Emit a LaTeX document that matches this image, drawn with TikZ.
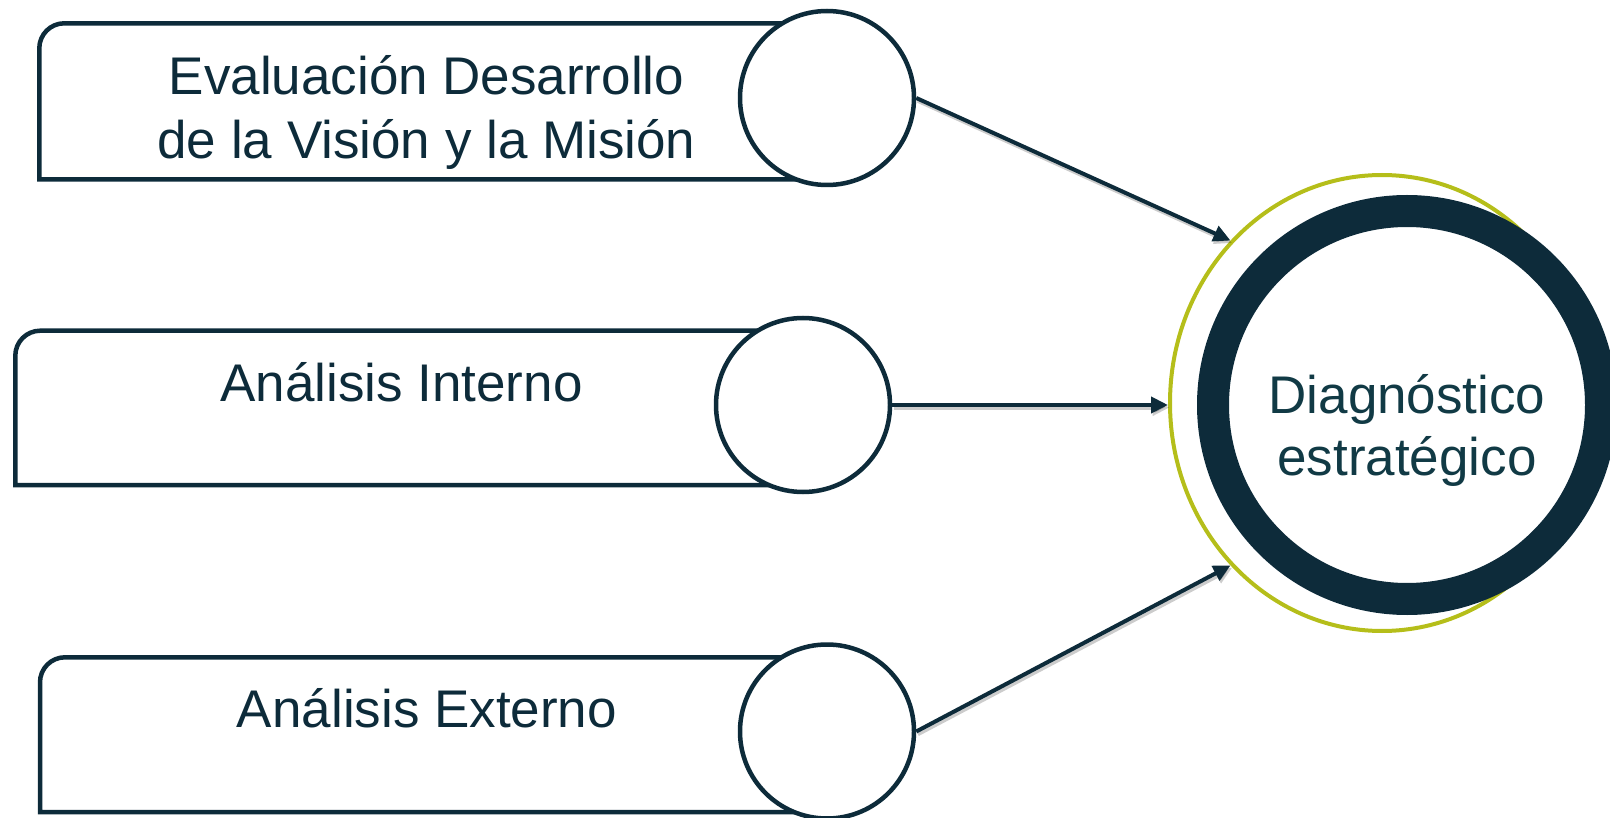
\documentclass[tikz,border=0pt]{standalone}
\usepackage{fontspec}
\setmainfont{Liberation Sans}
\usetikzlibrary{arrows.meta,shapes.geometric}
\definecolor{navy}{HTML}{0D2B3A}
\definecolor{lime}{HTML}{B5BE1A}
\definecolor{tealtext}{HTML}{113A45}
\begin{document}
\begin{tikzpicture}[x=1pt,y=-1pt,
  boxline/.style={draw=navy,line width=4.5pt},
  smallcirc/.style={circle,draw=navy,fill=white,line width=4.5pt,minimum size=174pt,inner sep=0pt},
  boxtext/.style={text=navy,font=\fontsize{53}{64.5}\selectfont,align=center,inner sep=0pt},
  arrowline/.style={draw=navy,line width=4pt,-{Triangle[length=17pt,width=16pt]}},
  shadowline/.style={draw=black,opacity=0.2,line width=4.5pt,-{Triangle[length=17pt,width=16pt]},transform canvas={shift={(1.5pt,-2.5pt)}}}
]
\useasboundingbox (0,0) rectangle (1610,818);

% boxes
\draw[boxline] (827,179.3) -- (39.3,179.3) -- (39.3,48.3) arc[start angle=180,end angle=270,radius=25] -- (827,23.3);
\draw[boxline] (803,485) -- (15.3,485) -- (15.3,355.7) arc[start angle=180,end angle=270,radius=25] -- (803,330.7);
\draw[boxline] (827,812) -- (40,812) -- (40,682.3) arc[start angle=180,end angle=270,radius=25] -- (827,657.3);

% box texts (base = last line)
\node[boxtext,anchor=base] (t1) at (426.5,159) {Evaluación Desarrollo\\de la Visión y la Misión};
\node[boxtext,anchor=base] (t2) at (401.5,401.5) {Análisis Interno};
\node[boxtext,anchor=base] (t3) at (427,727) {Análisis Externo};

% small circles
\node[smallcirc] (c1) at (827,98) {};
\node[smallcirc] (c2) at (803,405) {};
\node[smallcirc] (c3) at (827,731.5) {};

% target circles
\node[ellipse,draw=lime,line width=4pt,minimum width=424pt,minimum height=456pt,inner sep=0pt] (yc) at (1382,403) {};
\node[circle,draw=navy,fill=white,line width=32pt,minimum size=388pt,inner sep=0pt] (ring) at (1407,405) {};
\node[text=tealtext,font=\fontsize{53}{62}\selectfont,align=center,inner sep=0pt,anchor=base] (dg) at (1407,475) {Diagnóstico\\estratégico};

% arrows
\coordinate (a2end) at (yc.west |- c2.east);
\draw[shadowline] (c1.east) -- (yc.133);
\draw[shadowline] (c2.east) -- (a2end);
\draw[shadowline] (c3.east) -- (yc.227);
\draw[arrowline] (c1.east) -- (yc.133);
\draw[arrowline] (c2.east) -- (a2end);
\draw[arrowline] (c3.east) -- (yc.227);
\end{tikzpicture}
\end{document}
